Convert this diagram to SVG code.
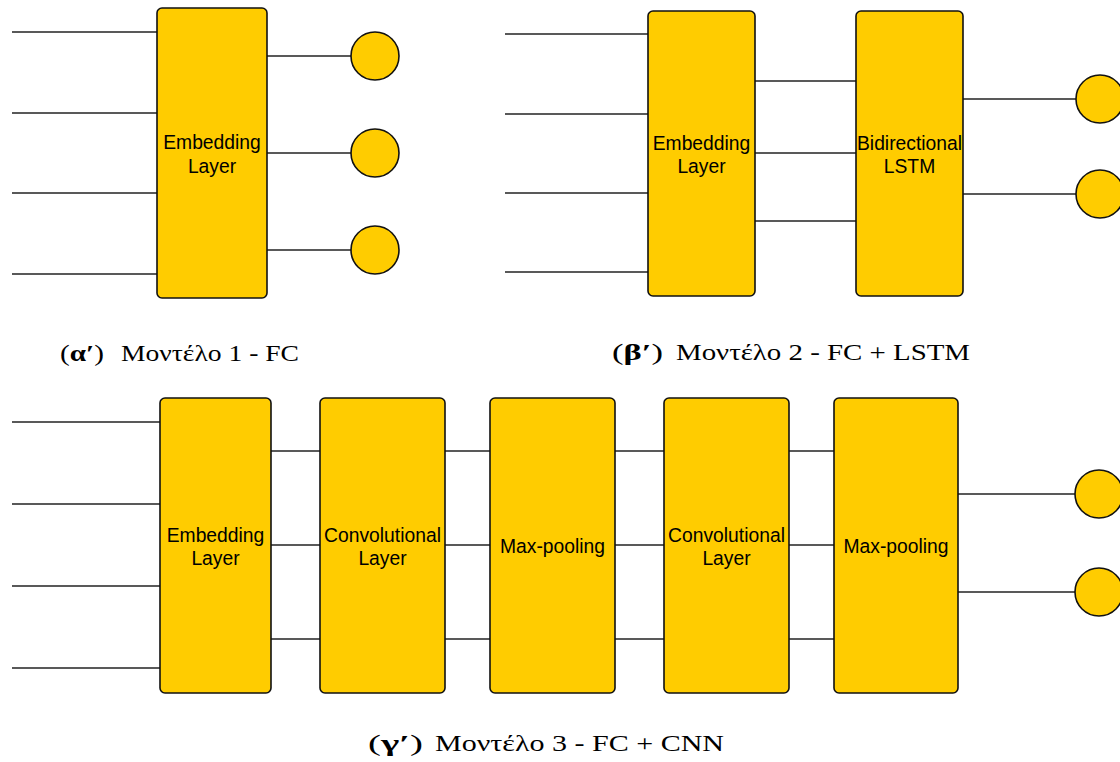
<svg xmlns="http://www.w3.org/2000/svg" width="1120" height="762" viewBox="0 0 1120 762">
  <style>
    .box { fill: #FFCC00; stroke: #111; stroke-width: 1.6; }
    .out { fill: #FFCC00; stroke: #111; stroke-width: 1.6; }
    .wire { stroke: #222; stroke-width: 1.6; fill: none; }
    .lbl { font-family: "Liberation Sans", Arial, sans-serif; font-size: 19.3px; fill: #000; text-anchor: middle; }
    .cap { font-family: "Liberation Serif", "Times New Roman", serif; font-size: 24px; fill: #000; }
    .tag { font-family: "Liberation Serif", "Times New Roman", serif; font-size: 24px; fill: #000; }
    .tag .b { font-weight: bold; }
  </style>
  <rect width="1120" height="762" fill="#fff"/>

  <!-- connectors -->
  <g id="connectors" class="wire">
    <!-- model 1 -->
    <line x1="12" y1="32" x2="157" y2="32"/>
    <line x1="12" y1="113" x2="157" y2="113"/>
    <line x1="12" y1="193" x2="157" y2="193"/>
    <line x1="12" y1="274" x2="157" y2="274"/>
    <line x1="267" y1="56" x2="351" y2="56"/>
    <line x1="267" y1="153" x2="351" y2="153"/>
    <line x1="267" y1="250" x2="351" y2="250"/>
    <!-- model 2 -->
    <line x1="505" y1="34" x2="648" y2="34"/>
    <line x1="505" y1="114" x2="648" y2="114"/>
    <line x1="505" y1="193" x2="648" y2="193"/>
    <line x1="505" y1="272" x2="648" y2="272"/>
    <line x1="755" y1="81" x2="856" y2="81"/>
    <line x1="755" y1="153" x2="856" y2="153"/>
    <line x1="755" y1="221" x2="856" y2="221"/>
    <line x1="963" y1="99" x2="1076" y2="99"/>
    <line x1="963" y1="194" x2="1076" y2="194"/>
    <!-- model 3 -->
    <line x1="12" y1="422" x2="160" y2="422"/>
    <line x1="12" y1="504" x2="160" y2="504"/>
    <line x1="12" y1="586" x2="160" y2="586"/>
    <line x1="12" y1="668" x2="160" y2="668"/>
    <line x1="271" y1="451" x2="320" y2="451"/>
    <line x1="271" y1="545" x2="320" y2="545"/>
    <line x1="271" y1="639" x2="320" y2="639"/>
    <line x1="445" y1="451" x2="490" y2="451"/>
    <line x1="445" y1="545" x2="490" y2="545"/>
    <line x1="445" y1="639" x2="490" y2="639"/>
    <line x1="615" y1="451" x2="664" y2="451"/>
    <line x1="615" y1="545" x2="664" y2="545"/>
    <line x1="615" y1="639" x2="664" y2="639"/>
    <line x1="789" y1="451" x2="834" y2="451"/>
    <line x1="789" y1="545" x2="834" y2="545"/>
    <line x1="789" y1="639" x2="834" y2="639"/>
    <line x1="958" y1="494" x2="1075" y2="494"/>
    <line x1="958" y1="592" x2="1075" y2="592"/>
  </g>

  <!-- model 1: FC -->
  <g id="m1-embedding">
    <rect class="box" x="157" y="8" width="110" height="290" rx="5"/>
    <text class="lbl" x="212" y="149">Embedding</text>
    <text class="lbl" x="212" y="173">Layer</text>
  </g>
  <g id="m1-outputs">
    <circle class="out" cx="375" cy="56" r="24"/>
    <circle class="out" cx="375" cy="153" r="24"/>
    <circle class="out" cx="375" cy="250" r="24"/>
  </g>
  <g id="m1-caption">
    <text class="tag" x="60" y="361" textLength="44" lengthAdjust="spacingAndGlyphs">(<tspan class="b">α′</tspan>)</text>
    <text class="cap" x="121" y="361" textLength="178" lengthAdjust="spacingAndGlyphs">Μοντέλο 1 - FC</text>
  </g>

  <!-- model 2: FC + LSTM -->
  <g id="m2-embedding">
    <rect class="box" x="648" y="11" width="107" height="285" rx="5"/>
    <text class="lbl" x="701.5" y="150">Embedding</text>
    <text class="lbl" x="701.5" y="173">Layer</text>
  </g>
  <g id="m2-bilstm">
    <rect class="box" x="856" y="11" width="107" height="285" rx="5"/>
    <text class="lbl" x="909.5" y="150">Bidirectional</text>
    <text class="lbl" x="909.5" y="173">LSTM</text>
  </g>
  <g id="m2-outputs">
    <circle class="out" cx="1100" cy="99" r="24"/>
    <circle class="out" cx="1100" cy="194" r="24"/>
  </g>
  <g id="m2-caption">
    <text class="tag" x="612" y="360" textLength="51" lengthAdjust="spacingAndGlyphs">(<tspan class="b">β′</tspan>)</text>
    <text class="cap" x="676" y="360" textLength="294" lengthAdjust="spacingAndGlyphs">Μοντέλο 2 - FC + LSTM</text>
  </g>

  <!-- model 3: FC + CNN -->
  <g id="m3-embedding">
    <rect class="box" x="160" y="398" width="111" height="295" rx="5"/>
    <text class="lbl" x="215.5" y="542">Embedding</text>
    <text class="lbl" x="215.5" y="565">Layer</text>
  </g>
  <g id="m3-conv1">
    <rect class="box" x="320" y="398" width="125" height="295" rx="5"/>
    <text class="lbl" x="382.5" y="542">Convolutional</text>
    <text class="lbl" x="382.5" y="565">Layer</text>
  </g>
  <g id="m3-pool1">
    <rect class="box" x="490" y="398" width="125" height="295" rx="5"/>
    <text class="lbl" x="552.5" y="553">Max-pooling</text>
  </g>
  <g id="m3-conv2">
    <rect class="box" x="664" y="398" width="125" height="295" rx="5"/>
    <text class="lbl" x="726.5" y="542">Convolutional</text>
    <text class="lbl" x="726.5" y="565">Layer</text>
  </g>
  <g id="m3-pool2">
    <rect class="box" x="834" y="398" width="124" height="295" rx="5"/>
    <text class="lbl" x="896" y="553">Max-pooling</text>
  </g>
  <g id="m3-outputs">
    <circle class="out" cx="1099" cy="494" r="24"/>
    <circle class="out" cx="1099" cy="592" r="24"/>
  </g>
  <g id="m3-caption">
    <text class="tag" x="368" y="751" textLength="55" lengthAdjust="spacingAndGlyphs">(<tspan class="b">γ′</tspan>)</text>
    <text class="cap" x="435" y="751" textLength="289" lengthAdjust="spacingAndGlyphs">Μοντέλο 3 - FC + CNN</text>
  </g>
</svg>
